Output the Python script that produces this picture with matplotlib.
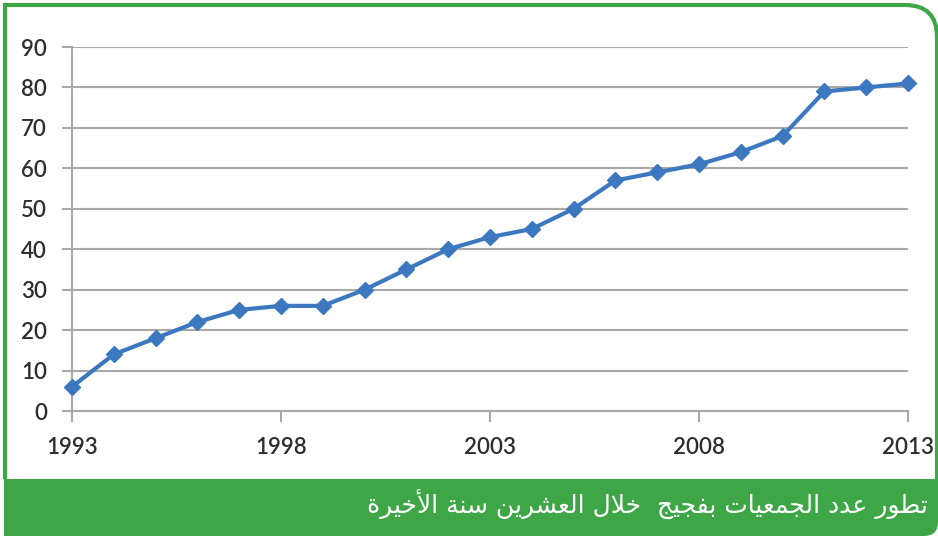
import matplotlib
matplotlib.use('Agg')
import matplotlib.pyplot as plt
from matplotlib.path import Path
from matplotlib.patches import PathPatch

years = list(range(1993, 2014))
counts = [6, 14, 18, 22, 25, 26, 26, 30, 35, 40, 43, 45, 50, 57, 59, 61, 64, 68, 79, 80, 81]
xticks = [1993, 1998, 2003, 2008, 2013]
yticks = list(range(0, 91, 10))
caption = 'تطور عدد الجمعيات بفجيج  خلال العشرين سنة الأخيرة'

# minimal arabic shaping -> presentation forms, visual order
FORMS = {
    'ا': ('\uFE8D', '\uFE8E', None, None),
    'أ': ('\uFE83', '\uFE84', None, None),
    'ب': ('\uFE8F', '\uFE90', '\uFE91', '\uFE92'),
    'ت': ('\uFE95', '\uFE96', '\uFE97', '\uFE98'),
    'ة': ('\uFE93', '\uFE94', None, None),
    'ج': ('\uFE9D', '\uFE9E', '\uFE9F', '\uFEA0'),
    'خ': ('\uFEA5', '\uFEA6', '\uFEA7', '\uFEA8'),
    'د': ('\uFEA9', '\uFEAA', None, None),
    'ر': ('\uFEAD', '\uFEAE', None, None),
    'س': ('\uFEB1', '\uFEB2', '\uFEB3', '\uFEB4'),
    'ش': ('\uFEB5', '\uFEB6', '\uFEB7', '\uFEB8'),
    'ط': ('\uFEC1', '\uFEC2', '\uFEC3', '\uFEC4'),
    'ع': ('\uFEC9', '\uFECA', '\uFECB', '\uFECC'),
    'ف': ('\uFED1', '\uFED2', '\uFED3', '\uFED4'),
    'ل': ('\uFEDD', '\uFEDE', '\uFEDF', '\uFEE0'),
    'م': ('\uFEE1', '\uFEE2', '\uFEE3', '\uFEE4'),
    'ن': ('\uFEE5', '\uFEE6', '\uFEE7', '\uFEE8'),
    'و': ('\uFEED', '\uFEEE', None, None),
    'ي': ('\uFEF1', '\uFEF2', '\uFEF3', '\uFEF4'),
    '\x01': ('\uFEF7', '\uFEF8', None, None),
    '\x02': ('\uFEFB', '\uFEFC', None, None),
}


def shape_ar(text):
    t = text.replace('لأ', '\x01').replace('لا', '\x02')
    out = []
    for i, ch in enumerate(t):
        if ch not in FORMS:
            out.append(ch)
            continue
        prev = t[i - 1] if i > 0 else ''
        nxt = t[i + 1] if i + 1 < len(t) else ''
        jp = prev in FORMS and FORMS[prev][2] is not None
        jn = FORMS[ch][2] is not None and nxt in FORMS
        iso, fin, ini, med = FORMS[ch]
        out.append(med if jp and jn else fin if jp else ini if jn else iso)
    return ''.join(out)[::-1]


green = '#3ea647'
blue = '#3b78bf'
grid = '#a8a8a8'

fig = plt.figure(figsize=(9.38, 5.36), dpi=100)

# frame + caption bar (pixel coords)
deco = fig.add_axes([0, 0, 1, 1], zorder=0)
deco.set_xlim(0, 938)
deco.set_ylim(536, 0)
deco.axis('off')
border = Path([(5, 479), (5, 5), (905, 5), (937, 5), (937, 37), (937, 479)],
              [Path.MOVETO, Path.LINETO, Path.LINETO, Path.CURVE3, Path.CURVE3, Path.LINETO])
deco.add_patch(PathPatch(border, fill=False, ec=green, lw=3))
bar = Path([(4, 479), (938, 479), (938, 522), (938, 536), (924, 536), (4, 536), (4, 479)],
           [Path.MOVETO, Path.LINETO, Path.LINETO, Path.CURVE3, Path.CURVE3, Path.LINETO, Path.CLOSEPOLY])
deco.add_patch(PathPatch(bar, fc=green, ec='none'))
deco.text(928, 504, shape_ar(caption), color='white', fontsize=18,
          family=['DejaVu Sans'], ha='right', va='center')

ax = fig.add_axes([72 / 938, 1 - 411 / 536, (908 - 72) / 938, (411 - 47) / 536], zorder=1)
ax.patch.set_alpha(0)
ax.plot(years, counts, color=blue, lw=3, marker='D', ms=8.5, mec=blue, mfc=blue,
        clip_on=False, zorder=3)

ax.set_xlim(1993, 2013)
ax.set_ylim(0, 90)
ax.set_xticks(xticks)
ax.set_yticks(yticks)
ax.grid(axis='y', color=grid, lw=1.5)
ax.set_axisbelow(True)
for s in ['top', 'right']:
    ax.spines[s].set_visible(False)
for s in ['left', 'bottom']:
    ax.spines[s].set_color(grid)
    ax.spines[s].set_linewidth(1.5)
ax.tick_params(axis='y', length=7, width=1.5, color=grid, pad=11,
               labelsize=16, labelcolor='#2e2e2e')
ax.tick_params(axis='x', length=8, width=1.5, color=grid, pad=11,
               labelsize=16, labelcolor='#2e2e2e')
for lab in ax.get_xticklabels() + ax.get_yticklabels():
    lab.set_family('Lato')
    lab.set_fontweight('semibold')

fig.savefig('out.png', dpi=100)
